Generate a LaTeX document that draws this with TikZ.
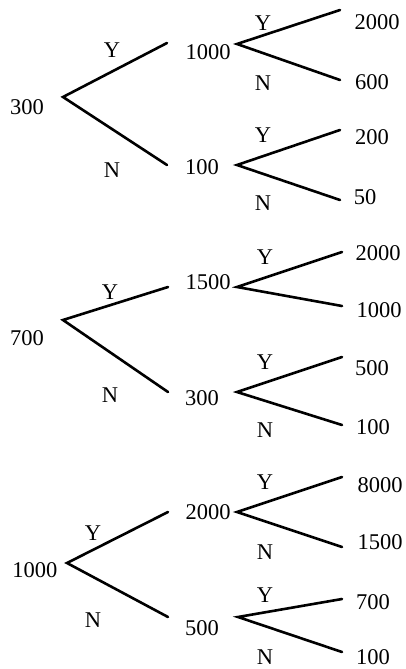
\documentclass[tikz,border=0pt]{standalone}
\usepackage{fontspec}
\setmainfont{Liberation Serif}
\begin{document}
\begin{tikzpicture}[x=1pt,y=-1pt,
  num/.style={inner sep=0pt,font=\fontsize{22.5}{24}\selectfont},
  lbl/.style={inner sep=0pt,font=\fontsize{22.5}{24}\selectfont},
  br/.style={line width=2.6pt,line cap=round}]
\useasboundingbox (0,0) rectangle (406,669);
% ---------- tree 1 ----------
\node[num] (t1r) at (27,107) {300};
\coordinate (t1v) at (63,97);
\coordinate (t1ae) at (167,43);
\coordinate (t1be) at (167,165);
\node[lbl] (t1y) at (112,50) {Y};
\node[lbl] (t1n) at (112,170) {N};
\node[num] (t1a) at (208,52) {1000};
\coordinate (t1av) at (237,44);
\coordinate (t1aye) at (340,10);
\coordinate (t1ane) at (340,80);
\node[lbl] (t1ay) at (263,23) {Y};
\node[lbl] (t1an) at (263,83) {N};
\node[num] (t1aa) at (377,22) {2000};
\node[num] (t1ab) at (372,82) {600};
\node[num] (t1b) at (202,167) {100};
\coordinate (t1bv) at (237,165);
\coordinate (t1bye) at (340,130);
\coordinate (t1bne) at (340,200);
\node[lbl] (t1by) at (263,135) {Y};
\node[lbl] (t1bn) at (263,203) {N};
\node[num] (t1ba) at (372,137) {200};
\node[num] (t1bb) at (365,197) {50};
\draw[br] (t1ae) -- (t1v) -- (t1be);
\draw[br] (t1aye) -- (t1av) -- (t1ane);
\draw[br] (t1bye) -- (t1bv) -- (t1bne);
% ---------- tree 2 ----------
\node[num] (t2r) at (27,338) {700};
\coordinate (t2v) at (63,320);
\coordinate (t2ae) at (168,287);
\coordinate (t2be) at (168,392);
\node[lbl] (t2y) at (110,292) {Y};
\node[lbl] (t2n) at (110,395) {N};
\node[num] (t2a) at (208,282) {1500};
\coordinate (t2av) at (237,287);
\coordinate (t2aye) at (342,252);
\coordinate (t2ane) at (342,306);
\node[lbl] (t2ay) at (265,257) {Y};
\node[num] (t2aa) at (378,253) {2000};
\node[num] (t2ab) at (379,310) {1000};
\node[num] (t2b) at (202,398) {300};
\coordinate (t2bv) at (237,392);
\coordinate (t2bye) at (342,357);
\coordinate (t2bne) at (342,425);
\node[lbl] (t2by) at (265,362) {Y};
\node[lbl] (t2bn) at (265,430) {N};
\node[num] (t2ba) at (372,368) {500};
\node[num] (t2bb) at (373,427) {100};
\draw[br] (t2ae) -- (t2v) -- (t2be);
\draw[br] (t2aye) -- (t2av) -- (t2ane);
\draw[br] (t2bye) -- (t2bv) -- (t2bne);
% ---------- tree 3 ----------
\node[num] (t3r) at (35,570) {1000};
\coordinate (t3v) at (67,563);
\coordinate (t3ae) at (168,512);
\coordinate (t3be) at (168,617);
\node[lbl] (t3y) at (93,533) {Y};
\node[lbl] (t3n) at (93,620) {N};
\node[num] (t3a) at (208,512) {2000};
\coordinate (t3av) at (237,512);
\coordinate (t3aye) at (342,477);
\coordinate (t3ane) at (342,547);
\node[lbl] (t3ay) at (265,482) {Y};
\node[lbl] (t3an) at (265,552) {N};
\node[num] (t3aa) at (380,485) {8000};
\node[num] (t3ab) at (380,542) {1500};
\node[num] (t3b) at (202,628) {500};
\coordinate (t3bv) at (238,617);
\coordinate (t3bye) at (342,599);
\coordinate (t3bne) at (342,652);
\node[lbl] (t3by) at (265,595) {Y};
\node[lbl] (t3bn) at (265,657) {N};
\node[num] (t3ba) at (373,602) {700};
\node[num] (t3bb) at (373,657) {100};
\draw[br] (t3ae) -- (t3v) -- (t3be);
\draw[br] (t3aye) -- (t3av) -- (t3ane);
\draw[br] (t3bye) -- (t3bv) -- (t3bne);
\end{tikzpicture}
\end{document}
